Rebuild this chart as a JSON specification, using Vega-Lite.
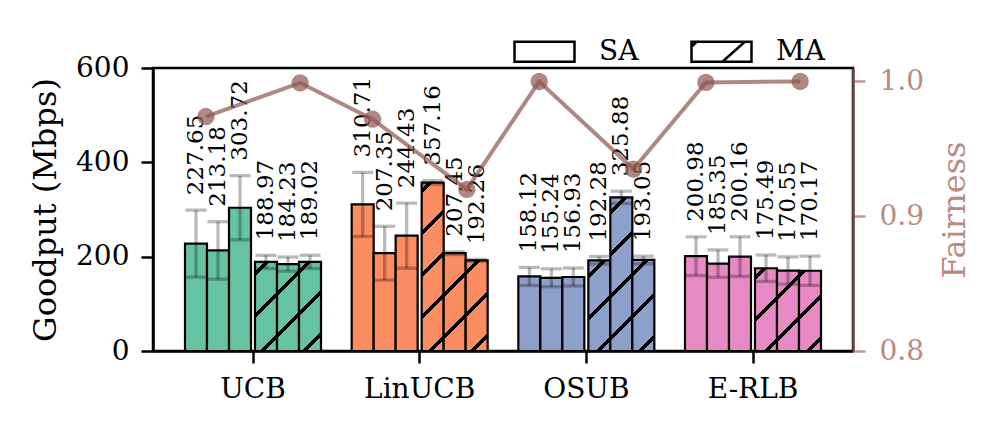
{
  "$schema": "https://vega.github.io/schema/vega-lite/v6.json",
  "width": 700,
  "height": 283,
  "autosize": {"type": "none"},
  "padding": {"left": 153, "top": 68, "right": 144, "bottom": 80},
  "background": "white",
  "datasets": {
    "bars": [
      {"algo": "UCB", "mode": "SA", "run": 1, "value": 227.65, "lo": 156.65, "hi": 298.65},
      {"algo": "UCB", "mode": "SA", "run": 2, "value": 213.18, "lo": 152.18, "hi": 274.18},
      {"algo": "UCB", "mode": "SA", "run": 3, "value": 303.72, "lo": 235.72, "hi": 371.72},
      {"algo": "UCB", "mode": "MA", "run": 1, "value": 188.97, "lo": 174.97, "hi": 202.97},
      {"algo": "UCB", "mode": "MA", "run": 2, "value": 184.23, "lo": 169.23, "hi": 199.23},
      {"algo": "UCB", "mode": "MA", "run": 3, "value": 189.02, "lo": 175.02, "hi": 203.02},
      {"algo": "LinUCB", "mode": "SA", "run": 1, "value": 310.71, "lo": 242.71, "hi": 378.71},
      {"algo": "LinUCB", "mode": "SA", "run": 2, "value": 207.35, "lo": 150.35, "hi": 264.35},
      {"algo": "LinUCB", "mode": "SA", "run": 3, "value": 244.43, "lo": 175.43, "hi": 313.43},
      {"algo": "LinUCB", "mode": "MA", "run": 1, "value": 357.16, "lo": 353.16, "hi": 361.16},
      {"algo": "LinUCB", "mode": "MA", "run": 2, "value": 207.45, "lo": 204.45, "hi": 210.45},
      {"algo": "LinUCB", "mode": "MA", "run": 3, "value": 192.26, "lo": 190.26, "hi": 194.26},
      {"algo": "OSUB", "mode": "SA", "run": 1, "value": 158.12, "lo": 139.12, "hi": 177.12},
      {"algo": "OSUB", "mode": "SA", "run": 2, "value": 155.24, "lo": 136.24, "hi": 174.24},
      {"algo": "OSUB", "mode": "SA", "run": 3, "value": 156.93, "lo": 137.93, "hi": 175.93},
      {"algo": "OSUB", "mode": "MA", "run": 1, "value": 192.28, "lo": 184.28, "hi": 200.28},
      {"algo": "OSUB", "mode": "MA", "run": 2, "value": 325.88, "lo": 312.88, "hi": 338.88},
      {"algo": "OSUB", "mode": "MA", "run": 3, "value": 193.05, "lo": 185.05, "hi": 201.05},
      {"algo": "E-RLB", "mode": "SA", "run": 1, "value": 200.98, "lo": 159.98, "hi": 241.98},
      {"algo": "E-RLB", "mode": "SA", "run": 2, "value": 185.35, "lo": 156.35, "hi": 214.35},
      {"algo": "E-RLB", "mode": "SA", "run": 3, "value": 200.16, "lo": 158.16, "hi": 242.16},
      {"algo": "E-RLB", "mode": "MA", "run": 1, "value": 175.49, "lo": 147.49, "hi": 203.49},
      {"algo": "E-RLB", "mode": "MA", "run": 2, "value": 170.55, "lo": 141.55, "hi": 199.55},
      {"algo": "E-RLB", "mode": "MA", "run": 3, "value": 170.17, "lo": 139.17, "hi": 201.17}
    ],
    "fair": [
      {"algo": "UCB", "mode": "SA", "fairness": 0.974},
      {"algo": "UCB", "mode": "MA", "fairness": 0.999},
      {"algo": "LinUCB", "mode": "SA", "fairness": 0.972},
      {"algo": "LinUCB", "mode": "MA", "fairness": 0.92},
      {"algo": "OSUB", "mode": "SA", "fairness": 1.0},
      {"algo": "OSUB", "mode": "MA", "fairness": 0.935},
      {"algo": "E-RLB", "mode": "SA", "fairness": 0.9993},
      {"algo": "E-RLB", "mode": "MA", "fairness": 1.0}
    ]
  },
  "layer": [
    {
      "data": {"name": "bars"},
      "layer": [
        {
          "transform": [{"filter": "datum.mode === 'SA'"}],
          "encoding": {
            "x": {"field": "algo", "type": "nominal", "scale": {"domain": ["UCB", "LinUCB", "OSUB", "E-RLB"], "paddingInner": 0.184, "paddingOuter": 0.192}, "axis": {"title": null, "labelAngle": 0, "labelPadding": 12}},
            "xOffset": {"field": "run", "type": "nominal", "scale": {"domain": [1, 2, 3], "range": [0, 66], "paddingInner": 0, "paddingOuter": 0}}
          },
          "layer": [
            {
              "mark": {"type": "bar", "stroke": "black", "strokeWidth": 2.2},
              "encoding": {
                "y": {"field": "value", "type": "quantitative", "scale": {"domain": [0, 600], "nice": false}, "axis": {"title": "Goodput (Mbps)", "values": [0, 200, 400, 600], "labelPadding": 12, "titlePadding": 13}},
                "fill": {"field": "algo", "type": "nominal", "scale": {"domain": ["UCB", "LinUCB", "OSUB", "E-RLB"], "range": ["#66c2a5", "#fc8d62", "#8da0cb", "#e78ac3"]}, "legend": null},
                "opacity": {"field": "mode", "type": "nominal", "scale": {"domain": ["SA", "MA"], "range": [1, 1]}, "legend": {
                  "title": null, "orient": "none", "legendX": 360, "legendY": -48, "direction": "horizontal",
                  "symbolSize": 3600, "symbolStrokeWidth": 2.5, "symbolStrokeColor": "black", "symbolFillColor": "white", "symbolOpacity": 1,
                  "labelFontSize": 28, "labelOffset": 23, "columnPadding": 47, "padding": 0,
                  "encode": {"symbols": {"update": {
                    "shape": {"signal": "datum.value === 'MA' ? 'M-1,-0.333H1V0.333H-1Z M0.03,0.333L0.78,-0.333 M-1,-0.17L-0.82,-0.333' : 'M-1,-0.333H1V0.333H-1Z'"},
                    "fill": {"value": "white"}, "stroke": {"value": "black"}, "strokeWidth": {"value": 2.5}, "opacity": {"value": 1}}}}
                }}
              }
            },
            {
              "mark": {"type": "rule", "color": "black", "opacity": 0.27, "strokeWidth": 3.3},
              "encoding": {"y": {"field": "lo", "type": "quantitative", "scale": {"domain": [0, 600], "nice": false}}, "y2": {"field": "hi"}}
            },
            {
              "transform": [{"fold": ["lo", "hi"], "as": ["end", "val"]}],
              "mark": {"type": "tick", "color": "black", "opacity": 0.27, "thickness": 3.3, "size": 21},
              "encoding": {"y": {"field": "val", "type": "quantitative", "scale": {"domain": [0, 600], "nice": false}}}
            },
            {
              "mark": {"type": "text", "angle": 270, "align": "left", "baseline": "middle", "dx": 15, "fontSize": 23, "color": "black"},
              "encoding": {"y": {"field": "hi", "type": "quantitative", "scale": {"domain": [0, 600], "nice": false}}, "text": {"field": "value", "type": "quantitative", "format": ".2f"}}
            }
          ]
        },
        {
          "transform": [{"filter": "datum.mode === 'MA'"}],
          "encoding": {
            "x": {"field": "algo", "type": "nominal", "scale": {"domain": ["UCB", "LinUCB", "OSUB", "E-RLB"], "paddingInner": 0.184, "paddingOuter": 0.192}},
            "xOffset": {"field": "run", "type": "nominal", "scale": {"domain": [1, 2, 3], "range": [70, 136], "paddingInner": 0, "paddingOuter": 0}}
          },
          "layer": [
            {
              "mark": {"type": "bar", "stroke": "black", "strokeWidth": 2.2},
              "encoding": {
                "y": {"field": "value", "type": "quantitative", "scale": {"domain": [0, 600], "nice": false}},
                "fill": {
                  "condition": [
                    {"test": "datum.algo === 'UCB' && datum.run === 1", "value": {"gradient": "linear", "x1": 0, "y1": 0, "x2": 0.2901, "y2": 1.1752, "stops": [
                      {"offset": 0, "color": "#66c2a5"}, {"offset": 0.084, "color": "#66c2a5"}, {"offset": 0.084, "color": "#000000"}, {"offset": 0.129, "color": "#000000"}, {"offset": 0.129, "color": "#66c2a5"},
                      {"offset": 0.4619, "color": "#66c2a5"}, {"offset": 0.4619, "color": "#000000"}, {"offset": 0.5069, "color": "#000000"}, {"offset": 0.5069, "color": "#66c2a5"},
                      {"offset": 0.8398, "color": "#66c2a5"}, {"offset": 0.8398, "color": "#000000"}, {"offset": 0.8848, "color": "#000000"}, {"offset": 0.8848, "color": "#66c2a5"}, {"offset": 1, "color": "#66c2a5"}]}},
                    {"test": "datum.algo === 'UCB' && datum.run === 2", "value": {"gradient": "linear", "x1": 0, "y1": 0, "x2": 0.2981, "y2": 1.1777, "stops": [
                      {"offset": 0, "color": "#66c2a5"}, {"offset": 0.2488, "color": "#66c2a5"}, {"offset": 0.2488, "color": "#000000"}, {"offset": 0.2948, "color": "#000000"}, {"offset": 0.2948, "color": "#66c2a5"},
                      {"offset": 0.6345, "color": "#66c2a5"}, {"offset": 0.6345, "color": "#000000"}, {"offset": 0.6805, "color": "#000000"}, {"offset": 0.6805, "color": "#66c2a5"}, {"offset": 1, "color": "#66c2a5"}]}},
                    {"test": "datum.algo === 'UCB' && datum.run === 3", "value": {"gradient": "linear", "x1": 0, "y1": 0, "x2": 0.29, "y2": 1.1752, "stops": [
                      {"offset": 0, "color": "#66c2a5"}, {"offset": 0.0661, "color": "#66c2a5"}, {"offset": 0.0661, "color": "#000000"}, {"offset": 0.1111, "color": "#000000"}, {"offset": 0.1111, "color": "#66c2a5"},
                      {"offset": 0.444, "color": "#66c2a5"}, {"offset": 0.444, "color": "#000000"}, {"offset": 0.489, "color": "#000000"}, {"offset": 0.489, "color": "#66c2a5"},
                      {"offset": 0.8218, "color": "#66c2a5"}, {"offset": 0.8218, "color": "#000000"}, {"offset": 0.8668, "color": "#000000"}, {"offset": 0.8668, "color": "#66c2a5"}, {"offset": 1, "color": "#66c2a5"}]}},
                    {"test": "datum.algo === 'LinUCB' && datum.run === 1", "value": {"gradient": "linear", "x1": 0, "y1": 0, "x2": 0.1452, "y2": 1.1116, "stops": [
                      {"offset": 0, "color": "#fc8d62"}, {"offset": 0.0313, "color": "#fc8d62"}, {"offset": 0.0313, "color": "#000000"}, {"offset": 0.0575, "color": "#000000"}, {"offset": 0.0575, "color": "#fc8d62"},
                      {"offset": 0.2518, "color": "#fc8d62"}, {"offset": 0.2518, "color": "#000000"}, {"offset": 0.278, "color": "#000000"}, {"offset": 0.278, "color": "#fc8d62"},
                      {"offset": 0.4724, "color": "#fc8d62"}, {"offset": 0.4724, "color": "#000000"}, {"offset": 0.4986, "color": "#000000"}, {"offset": 0.4986, "color": "#fc8d62"},
                      {"offset": 0.6929, "color": "#fc8d62"}, {"offset": 0.6929, "color": "#000000"}, {"offset": 0.7191, "color": "#000000"}, {"offset": 0.7191, "color": "#fc8d62"},
                      {"offset": 0.9134, "color": "#fc8d62"}, {"offset": 0.9134, "color": "#000000"}, {"offset": 0.9396, "color": "#000000"}, {"offset": 0.9396, "color": "#fc8d62"}, {"offset": 1, "color": "#fc8d62"}]}},
                    {"test": "datum.algo === 'LinUCB' && datum.run === 2", "value": {"gradient": "linear", "x1": 0, "y1": 0, "x2": 0.2621, "y2": 1.1659, "stops": [
                      {"offset": 0, "color": "#fc8d62"}, {"offset": 0.3283, "color": "#fc8d62"}, {"offset": 0.3283, "color": "#000000"}, {"offset": 0.3701, "color": "#000000"}, {"offset": 0.3701, "color": "#fc8d62"},
                      {"offset": 0.6787, "color": "#fc8d62"}, {"offset": 0.6787, "color": "#000000"}, {"offset": 0.7205, "color": "#000000"}, {"offset": 0.7205, "color": "#fc8d62"}, {"offset": 1, "color": "#fc8d62"}]}},
                    {"test": "datum.algo === 'LinUCB' && datum.run === 3", "value": {"gradient": "linear", "x1": 0, "y1": 0, "x2": 0.2847, "y2": 1.1735, "stops": [
                      {"offset": 0, "color": "#fc8d62"}, {"offset": 0.0903, "color": "#fc8d62"}, {"offset": 0.0903, "color": "#000000"}, {"offset": 0.1347, "color": "#000000"}, {"offset": 0.1347, "color": "#fc8d62"},
                      {"offset": 0.4631, "color": "#fc8d62"}, {"offset": 0.4631, "color": "#000000"}, {"offset": 0.5075, "color": "#000000"}, {"offset": 0.5075, "color": "#fc8d62"},
                      {"offset": 0.8358, "color": "#fc8d62"}, {"offset": 0.8358, "color": "#000000"}, {"offset": 0.8802, "color": "#000000"}, {"offset": 0.8802, "color": "#fc8d62"}, {"offset": 1, "color": "#fc8d62"}]}},
                    {"test": "datum.algo === 'OSUB' && datum.run === 1", "value": {"gradient": "linear", "x1": 0, "y1": 0, "x2": 0.2847, "y2": 1.1735, "stops": [
                      {"offset": 0, "color": "#8da0cb"}, {"offset": 0.1197, "color": "#8da0cb"}, {"offset": 0.1197, "color": "#000000"}, {"offset": 0.1641, "color": "#000000"}, {"offset": 0.1641, "color": "#8da0cb"},
                      {"offset": 0.4924, "color": "#8da0cb"}, {"offset": 0.4924, "color": "#000000"}, {"offset": 0.5368, "color": "#000000"}, {"offset": 0.5368, "color": "#8da0cb"},
                      {"offset": 0.8651, "color": "#8da0cb"}, {"offset": 0.8651, "color": "#000000"}, {"offset": 0.9095, "color": "#000000"}, {"offset": 0.9095, "color": "#8da0cb"}, {"offset": 1, "color": "#8da0cb"}]}},
                    {"test": "datum.algo === 'OSUB' && datum.run === 2", "value": {"gradient": "linear", "x1": 0, "y1": 0, "x2": 0.1603, "y2": 1.1202, "stops": [
                      {"offset": 0, "color": "#8da0cb"}, {"offset": 0.0712, "color": "#8da0cb"}, {"offset": 0.0712, "color": "#000000"}, {"offset": 0.0996, "color": "#000000"}, {"offset": 0.0996, "color": "#8da0cb"},
                      {"offset": 0.3103, "color": "#8da0cb"}, {"offset": 0.3103, "color": "#000000"}, {"offset": 0.3387, "color": "#000000"}, {"offset": 0.3387, "color": "#8da0cb"},
                      {"offset": 0.5493, "color": "#8da0cb"}, {"offset": 0.5493, "color": "#000000"}, {"offset": 0.5777, "color": "#000000"}, {"offset": 0.5777, "color": "#8da0cb"},
                      {"offset": 0.7883, "color": "#8da0cb"}, {"offset": 0.7883, "color": "#000000"}, {"offset": 0.8167, "color": "#000000"}, {"offset": 0.8167, "color": "#8da0cb"}, {"offset": 1, "color": "#8da0cb"}]}},
                    {"test": "datum.algo === 'OSUB' && datum.run === 3", "value": {"gradient": "linear", "x1": 0, "y1": 0, "x2": 0.2834, "y2": 1.1731, "stops": [
                      {"offset": 0, "color": "#8da0cb"}, {"offset": 0.1049, "color": "#8da0cb"}, {"offset": 0.1049, "color": "#000000"}, {"offset": 0.1491, "color": "#000000"}, {"offset": 0.1491, "color": "#8da0cb"},
                      {"offset": 0.4764, "color": "#8da0cb"}, {"offset": 0.4764, "color": "#000000"}, {"offset": 0.5206, "color": "#000000"}, {"offset": 0.5206, "color": "#8da0cb"},
                      {"offset": 0.8479, "color": "#8da0cb"}, {"offset": 0.8479, "color": "#000000"}, {"offset": 0.8921, "color": "#000000"}, {"offset": 0.8921, "color": "#8da0cb"}, {"offset": 1, "color": "#8da0cb"}]}},
                    {"test": "datum.algo === 'E-RLB' && datum.run === 1", "value": {"gradient": "linear", "x1": 0, "y1": 0, "x2": 0.3142, "y2": 1.1823, "stops": [
                      {"offset": 0, "color": "#e78ac3"}, {"offset": 0.0665, "color": "#e78ac3"}, {"offset": 0.0665, "color": "#000000"}, {"offset": 0.1143, "color": "#000000"}, {"offset": 0.1143, "color": "#e78ac3"},
                      {"offset": 0.4674, "color": "#e78ac3"}, {"offset": 0.4674, "color": "#000000"}, {"offset": 0.5152, "color": "#000000"}, {"offset": 0.5152, "color": "#e78ac3"},
                      {"offset": 0.8682, "color": "#e78ac3"}, {"offset": 0.8682, "color": "#000000"}, {"offset": 0.916, "color": "#000000"}, {"offset": 0.916, "color": "#e78ac3"}, {"offset": 1, "color": "#e78ac3"}]}},
                    {"test": "datum.algo === 'E-RLB' && datum.run === 2", "value": {"gradient": "linear", "x1": 0, "y1": 0, "x2": 0.3241, "y2": 1.1849, "stops": [
                      {"offset": 0, "color": "#e78ac3"}, {"offset": 0.2405, "color": "#e78ac3"}, {"offset": 0.2405, "color": "#000000"}, {"offset": 0.2893, "color": "#000000"}, {"offset": 0.2893, "color": "#e78ac3"},
                      {"offset": 0.6505, "color": "#e78ac3"}, {"offset": 0.6505, "color": "#000000"}, {"offset": 0.6993, "color": "#000000"}, {"offset": 0.6993, "color": "#e78ac3"}, {"offset": 1, "color": "#e78ac3"}]}},
                    {"test": "datum.algo === 'E-RLB' && datum.run === 3", "value": {"gradient": "linear", "x1": 0, "y1": 0, "x2": 0.3248, "y2": 1.1851, "stops": [
                      {"offset": 0, "color": "#e78ac3"}, {"offset": 0.0241, "color": "#e78ac3"}, {"offset": 0.0241, "color": "#000000"}, {"offset": 0.0729, "color": "#000000"}, {"offset": 0.0729, "color": "#e78ac3"},
                      {"offset": 0.4348, "color": "#e78ac3"}, {"offset": 0.4348, "color": "#000000"}, {"offset": 0.4836, "color": "#000000"}, {"offset": 0.4836, "color": "#e78ac3"},
                      {"offset": 0.8455, "color": "#e78ac3"}, {"offset": 0.8455, "color": "#000000"}, {"offset": 0.8943, "color": "#000000"}, {"offset": 0.8943, "color": "#e78ac3"}, {"offset": 1, "color": "#e78ac3"}]}}
                  ],
                  "field": "algo", "type": "nominal", "scale": {"domain": ["UCB", "LinUCB", "OSUB", "E-RLB"], "range": ["#66c2a5", "#fc8d62", "#8da0cb", "#e78ac3"]}, "legend": null
                }
              }
            },
            {
              "mark": {"type": "rule", "color": "black", "opacity": 0.27, "strokeWidth": 3.3},
              "encoding": {"y": {"field": "lo", "type": "quantitative", "scale": {"domain": [0, 600], "nice": false}}, "y2": {"field": "hi"}}
            },
            {
              "transform": [{"fold": ["lo", "hi"], "as": ["end", "val"]}],
              "mark": {"type": "tick", "color": "black", "opacity": 0.27, "thickness": 3.3, "size": 21},
              "encoding": {"y": {"field": "val", "type": "quantitative", "scale": {"domain": [0, 600], "nice": false}}}
            },
            {
              "mark": {"type": "text", "angle": 270, "align": "left", "baseline": "middle", "dx": 15, "fontSize": 23, "color": "black"},
              "encoding": {"y": {"field": "hi", "type": "quantitative", "scale": {"domain": [0, 600], "nice": false}}, "text": {"field": "value", "type": "quantitative", "format": ".2f"}}
            }
          ]
        }
      ],
      "resolve": {"scale": {"xOffset": "independent"}}
    },
    {
      "data": {"name": "fair"},
      "encoding": {
        "x": {"field": "algo", "type": "nominal", "scale": {"domain": ["UCB", "LinUCB", "OSUB", "E-RLB"], "paddingInner": 0.184, "paddingOuter": 0.192}},
        "xOffset": {"field": "mode", "type": "nominal", "scale": {"domain": ["SA", "MA"], "paddingInner": 0.5, "paddingOuter": 0.2214}},
        "y": {"field": "fairness", "type": "quantitative", "scale": {"domain": [0.8, 1.01], "nice": false, "zero": false}, "axis": {
          "orient": "right", "title": "Fairness", "values": [0.8, 0.9, 1.0], "format": ".1f",
          "labelColor": "#b98a80", "titleColor": "#b98a80", "tickColor": "#c09890", "domainColor": "#6e4b45",
          "labelPadding": 14, "titlePadding": 16, "titleAngle": 270, "titleBaseline": "top"}}
      },
      "layer": [
        {"mark": {"type": "line", "color": "#8c564b", "opacity": 0.7, "strokeWidth": 4}, "encoding": {"order": {"value": null}}},
        {"mark": {"type": "point", "filled": true, "color": "#8c564b", "opacity": 0.7, "size": 300}}
      ]
    }
  ],
  "resolve": {"scale": {"y": "independent", "xOffset": "independent"}},
  "config": {
    "font": "DejaVu Serif",
    "view": {"stroke": "black", "strokeWidth": 2.5},
    "axis": {"grid": false, "labelFontSize": 28, "titleFontSize": 32, "titleFontWeight": "normal", "labelColor": "black", "titleColor": "black", "domainColor": "black", "tickColor": "black", "domainWidth": 2.5, "tickWidth": 2.5, "tickSize": 12},
    "legend": {"labelFont": "DejaVu Serif"}
  }
}
